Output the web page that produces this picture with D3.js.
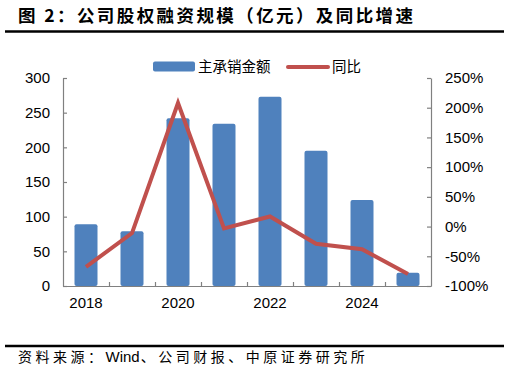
<!DOCTYPE html>
<html>
<head>
<meta charset="utf-8">
<script src="https://cdn.jsdelivr.net/npm/d3@7"></script>
<style>
  body { margin: 0; background: #fff; }
  svg { display: block; }
</style>
</head>
<body>
<svg id="chart" width="510" height="378"></svg>
<script>
// data
const years = ["2018", "2019", "2020", "2021", "2022", "2023", "2024", "2025"];
const amount = [89, 79, 242, 234, 273, 195, 124, 19];      // 主承销金额 (亿元)
const growth = [-68, -11, 208, -3, 17, -29, -38, -80];      // 同比 (%)
const labelYears = ["2018", "2020", "2022", "2024"];
const leftTicks = [0, 50, 100, 150, 200, 250, 300];
const rightTicks = [-100, -50, 0, 50, 100, 150, 200, 250];

const width = 510, height = 378;
const margin = { top: 78, right: 79, bottom: 92, left: 63 };
const plotW = width - margin.left - margin.right;
const plotH = height - margin.top - margin.bottom;

const svg = d3.select("#chart");
const numFont = "'Liberation Sans', Arial, sans-serif";
const cjkFont = "'Noto Sans CJK SC', 'Noto Sans', sans-serif";

// title + rules
svg.append("text")
  .attr("x", 18).attr("y", 22)
  .attr("font-family", cjkFont).attr("font-weight", 700)
  .attr("font-size", 17.5)
  .attr("textLength", 395).attr("lengthAdjust", "spacing")
  .text("图 2：公司股权融资规模（亿元）及同比增速");
svg.append("line").attr("x1", 5).attr("x2", 504).attr("y1", 31.5).attr("y2", 31.5)
  .attr("stroke", "#000").attr("stroke-width", 2.5);
svg.append("line").attr("x1", 5).attr("x2", 504).attr("y1", 346).attr("y2", 346)
  .attr("stroke", "#000").attr("stroke-width", 2.5);

// source note: CJK parts spaced out, "Wind" set tight
const src = svg.append("text").attr("x", 18).attr("y", 362).attr("font-size", 14);
src.append("tspan").attr("font-family", cjkFont).attr("letter-spacing", 3.5).text("资料来源：");
src.append("tspan").attr("font-family", numFont).attr("font-size", 15).text("Wind");
src.append("tspan").attr("font-family", cjkFont).attr("letter-spacing", 3.5).attr("dx", 1)
  .text("、公司财报、中原证券研究所");

const g = svg.append("g").attr("transform", `translate(${margin.left},${margin.top})`);

const x = d3.scaleBand().domain(years).range([0, plotW]).paddingInner(0.5).paddingOuter(0.25);
const yL = d3.scaleLinear().domain([0, 300]).range([plotH, 0]);
const yR = d3.scaleLinear().domain([-100, 250]).range([plotH, 0]);
const xTick = d3.scaleLinear().domain([0, years.length]).range([0, plotW]);

// bars
g.selectAll("rect.bar")
  .data(amount)
  .join("rect")
  .attr("class", "bar")
  .attr("x", (d, i) => x(years[i]))
  .attr("y", d => yL(d))
  .attr("width", x.bandwidth())
  .attr("height", d => yL(0) - yL(d))
  .attr("rx", 2)
  .attr("fill", "#4F81BD");

// axes
function styleAxis(sel) {
  sel.selectAll(".domain").attr("stroke", "#808080").attr("stroke-width", 1.2);
  sel.selectAll(".tick line").attr("stroke", "#808080").attr("stroke-width", 1.2);
  sel.selectAll("text").attr("fill", "#000").attr("font-family", numFont).attr("font-size", 15);
}

g.append("g")
  .call(d3.axisLeft(yL).tickValues(leftTicks).tickSize(-4).tickPadding(13).tickSizeOuter(0))
  .call(styleAxis);

g.append("g")
  .attr("transform", `translate(${plotW},0)`)
  .call(d3.axisRight(yR).tickValues(rightTicks).tickSize(-4).tickPadding(14).tickSizeOuter(0)
    .tickFormat(d => d + "%"))
  .call(styleAxis);

// x axis: category boundaries as ticks, labels every other year
g.append("g")
  .attr("transform", `translate(0,${plotH})`)
  .call(d3.axisBottom(xTick).tickValues(d3.range(1, years.length)).tickSize(-4).tickFormat("").tickSizeOuter(0))
  .call(styleAxis);

g.append("g")
  .attr("transform", `translate(0,${plotH})`)
  .call(d3.axisBottom(x).tickValues(labelYears).tickSize(0).tickPadding(11))
  .call(styleAxis)
  .call(a => a.select(".domain").remove());

// growth line
const line = d3.line()
  .x((d, i) => x(years[i]) + x.bandwidth() / 2)
  .y(d => yR(d));

g.append("path")
  .datum(growth)
  .attr("fill", "none")
  .attr("stroke", "#C0504D")
  .attr("stroke-width", 4)
  .attr("stroke-linejoin", "miter")
  .attr("d", line);

// legend
const lg = svg.append("g").attr("font-family", cjkFont).attr("font-size", 14.5);
lg.append("rect").attr("x", 153).attr("y", 61.5).attr("width", 42).attr("height", 10).attr("rx", 2)
  .attr("fill", "#4F81BD");
lg.append("text").attr("x", 198).attr("y", 67).attr("dy", "0.35em").text("主承销金额");
lg.append("line").attr("x1", 288).attr("x2", 328).attr("y1", 67).attr("y2", 67)
  .attr("stroke", "#C0504D").attr("stroke-width", 4).attr("stroke-linecap", "round");
lg.append("text").attr("x", 332).attr("y", 67).attr("dy", "0.35em").text("同比");
</script>
</body>
</html>
